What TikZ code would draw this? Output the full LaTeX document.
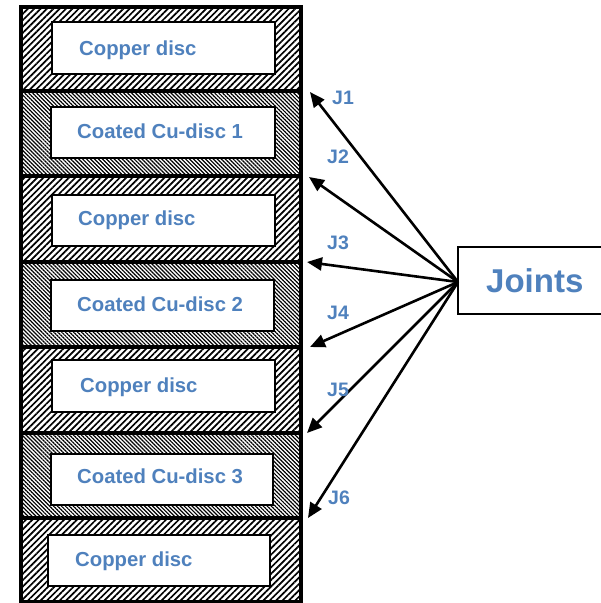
\documentclass[tikz,border=0pt]{standalone}
\usepackage{fontspec}
\setmainfont{Liberation Sans}
\usetikzlibrary{patterns.meta,arrows.meta}
\definecolor{txtblue}{HTML}{4F81BD}
\tikzset{
  copperfill/.style={pattern={Lines[angle=45,distance=4.5pt,line width=1.7pt]}},
  coatfill/.style={pattern={Lines[angle=-45,distance=2.8pt,line width=1.2pt]}},
  innerbox/.style={draw=black,line width=2.5pt,fill=white},
  disctext/.style={anchor=base west,inner sep=0pt,text=txtblue,font=\bfseries\fontsize{20.3}{23}\selectfont},
  jlabel/.style={anchor=base west,inner sep=0pt,text=txtblue,font=\bfseries\fontsize{19.5}{22}\selectfont},
  jarrow/.style={line width=2.6pt,-{Triangle[length=15pt,width=13pt]}},
}
\begin{document}
\begin{tikzpicture}[x=1pt,y=-1pt]
\useasboundingbox (0,0) rectangle (601,603);
% layers
\fill[copperfill] (21,7) rectangle (301,91);
\fill[coatfill] (21,91) rectangle (301,176);
\fill[copperfill] (21,176) rectangle (301,262);
\fill[coatfill] (21,262) rectangle (301,347);
\fill[copperfill] (21,347) rectangle (301,433);
\fill[coatfill] (21,433) rectangle (301,518);
\fill[copperfill] (21,518) rectangle (301,602);
% dividers
\foreach \y in {91,176,262,347,433,518} \draw[line width=4.5pt] (21,\y) -- (301,\y);
\draw[line width=3.5pt] (21,7) rectangle (301,602);
% inner boxes
\draw[innerbox] (52,22) rectangle (275,74);
\draw[innerbox] (51,107) rectangle (275,158);
\draw[innerbox] (52,195) rectangle (275,246);
\draw[innerbox] (51,280) rectangle (274,331);
\draw[innerbox] (52,360) rectangle (275,412);
\draw[innerbox] (51,454) rectangle (273,505);
\draw[innerbox] (48,535) rectangle (270,586);
% texts
\node[disctext] (t1) at (79,55) {Copper disc};
\node[disctext] (t2) at (77,138) {Coated Cu-disc 1};
\node[disctext] (t3) at (78,225) {Copper disc};
\node[disctext] (t4) at (77,311) {Coated Cu-disc 2};
\node[disctext] (t5) at (80,392) {Copper disc};
\node[disctext] (t6) at (77,483) {Coated Cu-disc 3};
\node[disctext] (t7) at (75,566) {Copper disc};
% joints box
\draw[line width=2.5pt,fill=white] (458,247) rectangle (604,314);
\node[anchor=base west,inner sep=0pt,text=txtblue,font=\bfseries\fontsize{33}{37}\selectfont] (joints) at (486,292) {Joints};
\coordinate (src) at (458,282);
\coordinate (j1) at (310,92);
\coordinate (j2) at (309,177);
\coordinate (j3) at (307,262);
\coordinate (j4) at (310,347);
\coordinate (j5) at (307,433);
\coordinate (j6) at (308,518);
\foreach \j in {j1,j2,j3,j4,j5,j6} \draw[jarrow] (src) -- (\j);
% labels
\node[jlabel] (l1) at (332,104) {J1};
\node[jlabel] (l2) at (327,163) {J2};
\node[jlabel] (l3) at (327,249) {J3};
\node[jlabel] (l4) at (327,319) {J4};
\node[jlabel] (l5) at (327,396) {J5};
\node[jlabel] (l6) at (328,504) {J6};
\end{tikzpicture}
\end{document}
